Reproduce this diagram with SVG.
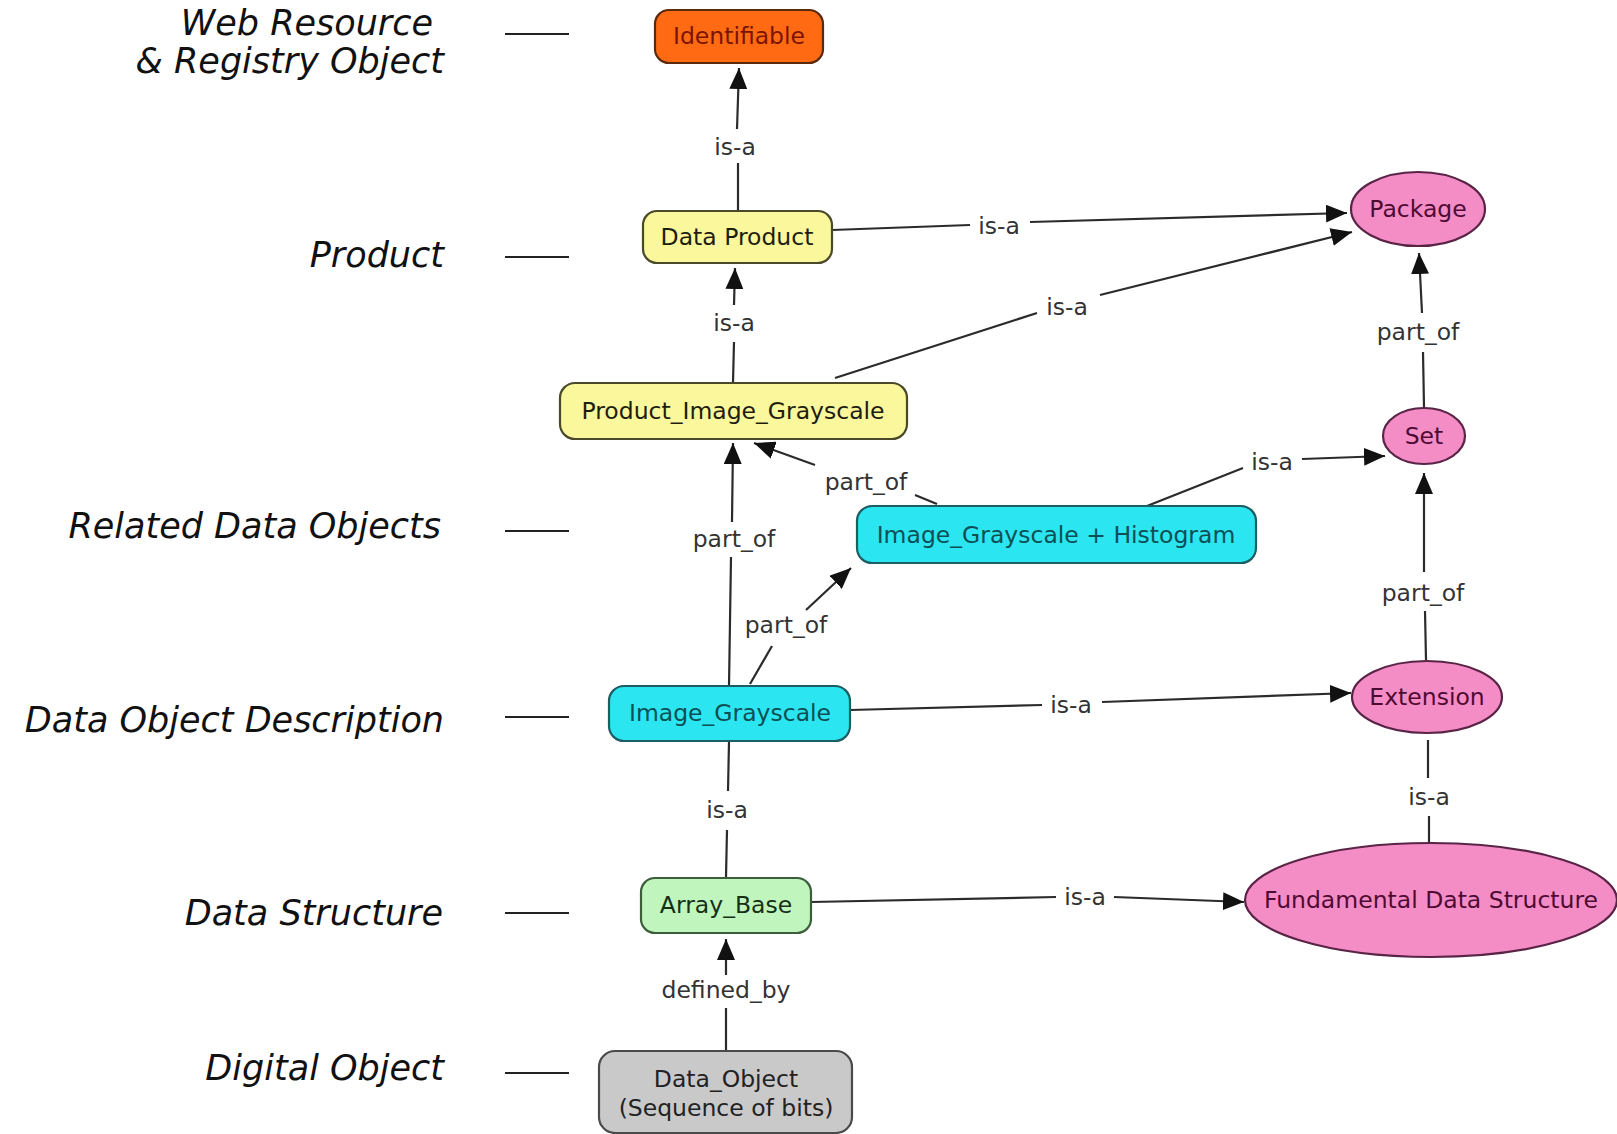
<svg xmlns="http://www.w3.org/2000/svg" width="1617" height="1134" viewBox="0 0 1617 1134">
  <style>
    .lvl { font-family: "DejaVu Sans", Verdana, sans-serif; font-style: italic; font-size: 35px; fill: #111; text-anchor: end; }
    .dash { stroke: #222; stroke-width: 2; }
    .box { stroke-width: 2.2; }
    .ell { fill: #F48DC6; stroke: #5a2446; stroke-width: 2.2; }
    .nt { font-family: "DejaVu Sans", Verdana, sans-serif; font-size: 23.5px; text-anchor: middle; }
    .lbl { font-family: "DejaVu Sans", Verdana, sans-serif; font-size: 23.5px; fill: #333; text-anchor: middle; }
    .ln { stroke: #2b2b2b; stroke-width: 2.2; fill: none; }
    .arr { marker-end: url(#head); }
  </style>
  <defs>
    <marker id="head" markerUnits="userSpaceOnUse" markerWidth="22" markerHeight="18" refX="21" refY="9" orient="auto">
      <path d="M0,0 L21,9 L0,18 z" fill="#111"/>
    </marker>
  </defs>
  <rect width="1617" height="1134" fill="#fff"/>

  <!-- level captions on the left -->
  <g id="levels">
    <text class="lvl" x="433" y="35">Web Resource</text>
    <text class="lvl" x="444" y="73">&amp; Registry Object</text>
    <text class="lvl" x="444" y="267">Product</text>
    <text class="lvl" x="441" y="538">Related Data Objects</text>
    <text class="lvl" x="444" y="732">Data Object Description</text>
    <text class="lvl" x="443" y="925">Data Structure</text>
    <text class="lvl" x="444" y="1080">Digital Object</text>
    <line class="dash" x1="505" y1="34" x2="569" y2="34"/>
    <line class="dash" x1="505" y1="257" x2="569" y2="257"/>
    <line class="dash" x1="505" y1="531" x2="569" y2="531"/>
    <line class="dash" x1="505" y1="717" x2="569" y2="717"/>
    <line class="dash" x1="505" y1="913" x2="569" y2="913"/>
    <line class="dash" x1="505" y1="1073" x2="569" y2="1073"/>
  </g>

  <!-- connectors, broken around their labels -->
  <g id="connectors">
    <!-- Data Product is-a Identifiable -->
    <line class="ln" x1="738" y1="210" x2="738" y2="163"/>
    <line class="ln arr" x1="737" y1="129" x2="739" y2="68"/>
    <text class="lbl" x="735" y="155">is-a</text>
    <!-- Data Product is-a Package -->
    <line class="ln" x1="832" y1="230" x2="970" y2="225"/>
    <line class="ln arr" x1="1030" y1="222" x2="1347" y2="213"/>
    <text class="lbl" x="999" y="234">is-a</text>
    <!-- Product_Image_Grayscale is-a Data Product -->
    <line class="ln" x1="733" y1="382" x2="734" y2="342"/>
    <line class="ln arr" x1="734" y1="305" x2="735" y2="268"/>
    <text class="lbl" x="734" y="331">is-a</text>
    <!-- Product_Image_Grayscale is-a Package -->
    <line class="ln" x1="835" y1="378" x2="1037" y2="313"/>
    <line class="ln arr" x1="1100" y1="295" x2="1352" y2="232"/>
    <text class="lbl" x="1067" y="315">is-a</text>
    <!-- Image_Grayscale + Histogram part_of Product_Image_Grayscale -->
    <line class="ln" x1="937" y1="504" x2="915" y2="495"/>
    <line class="ln arr" x1="815" y1="465" x2="754" y2="443"/>
    <text class="lbl" x="866" y="490">part_of</text>
    <!-- Image_Grayscale + Histogram is-a Set -->
    <line class="ln" x1="1147" y1="506" x2="1243" y2="468"/>
    <line class="ln arr" x1="1302" y1="459" x2="1385" y2="456"/>
    <text class="lbl" x="1272" y="470">is-a</text>
    <!-- Set part_of Package -->
    <line class="ln" x1="1424" y1="407" x2="1423" y2="352"/>
    <line class="ln arr" x1="1422" y1="313" x2="1419" y2="253"/>
    <text class="lbl" x="1418" y="340">part_of</text>
    <!-- Extension part_of Set -->
    <line class="ln" x1="1426" y1="660" x2="1425" y2="611"/>
    <line class="ln arr" x1="1424" y1="572" x2="1424" y2="473"/>
    <text class="lbl" x="1423" y="601">part_of</text>
    <!-- Image_Grayscale part_of Product_Image_Grayscale -->
    <line class="ln" x1="729" y1="686" x2="731" y2="557"/>
    <line class="ln arr" x1="732" y1="522" x2="733" y2="443"/>
    <text class="lbl" x="734" y="547">part_of</text>
    <!-- Image_Grayscale part_of Image_Grayscale + Histogram -->
    <line class="ln" x1="750" y1="684" x2="772" y2="646"/>
    <line class="ln arr" x1="806" y1="610" x2="851" y2="568"/>
    <text class="lbl" x="786" y="633">part_of</text>
    <!-- Image_Grayscale is-a Extension -->
    <line class="ln" x1="850" y1="710" x2="1042" y2="705"/>
    <line class="ln arr" x1="1102" y1="702" x2="1351" y2="693"/>
    <text class="lbl" x="1071" y="713">is-a</text>
    <!-- Array_Base is-a Image_Grayscale -->
    <line class="ln" x1="726" y1="877" x2="727" y2="830"/>
    <line class="ln" x1="728" y1="791" x2="729" y2="742"/>
    <text class="lbl" x="727" y="818">is-a</text>
    <!-- Array_Base is-a Fundamental Data Structure -->
    <line class="ln" x1="811" y1="902" x2="1056" y2="897"/>
    <line class="ln arr" x1="1114" y1="897" x2="1244" y2="902"/>
    <text class="lbl" x="1085" y="905">is-a</text>
    <!-- Fundamental Data Structure is-a Extension -->
    <line class="ln" x1="1429" y1="842" x2="1429" y2="816"/>
    <line class="ln" x1="1428" y1="778" x2="1428" y2="740"/>
    <text class="lbl" x="1429" y="805">is-a</text>
    <!-- Data_Object defined_by Array_Base -->
    <line class="ln" x1="726" y1="1050" x2="726" y2="1008"/>
    <line class="ln arr" x1="726" y1="975" x2="726" y2="939"/>
    <text class="lbl" x="726" y="998">defined_by</text>
  </g>

  <!-- nodes -->
  <g id="identifiable">
    <rect class="box" x="655" y="10" width="168" height="53" rx="14" fill="#FF6A12" stroke="#5a2a0a"/>
    <text class="nt" x="739" y="44" fill="#7a1400">Identifiable</text>
  </g>
  <g id="data-product">
    <rect class="box" x="643" y="211" width="189" height="52" rx="14" fill="#FAF79C" stroke="#4a4a2a"/>
    <text class="nt" x="737" y="245" fill="#1e1e10">Data Product</text>
  </g>
  <g id="product-image-grayscale">
    <rect class="box" x="560" y="383" width="347" height="56" rx="15" fill="#FAF79C" stroke="#4a4a2a"/>
    <text class="nt" x="733" y="419" fill="#1e1e10">Product_Image_Grayscale</text>
  </g>
  <g id="image-grayscale-histogram">
    <rect class="box" x="857" y="506" width="399" height="57" rx="15" fill="#2BE5F0" stroke="#1d5e63"/>
    <text class="nt" x="1056" y="543" fill="#0e4f55">Image_Grayscale + Histogram</text>
  </g>
  <g id="image-grayscale">
    <rect class="box" x="609" y="686" width="241" height="55" rx="15" fill="#2BE5F0" stroke="#1d5e63"/>
    <text class="nt" x="730" y="721" fill="#0e4f55">Image_Grayscale</text>
  </g>
  <g id="array-base">
    <rect class="box" x="641" y="878" width="170" height="55" rx="14" fill="#C0F5BE" stroke="#3c5e3a"/>
    <text class="nt" x="726" y="913" fill="#163016">Array_Base</text>
  </g>
  <g id="data-object">
    <rect class="box" x="599" y="1051" width="253" height="82" rx="16" fill="#C9C9C9" stroke="#4a4a4a"/>
    <text class="nt" x="726" y="1087" fill="#222">Data_Object</text>
    <text class="nt" x="726" y="1116" fill="#222">(Sequence of bits)</text>
  </g>
  <g id="package">
    <ellipse class="ell" cx="1418" cy="209" rx="67" ry="37"/>
    <text class="nt" x="1418" y="217" fill="#4f0a34">Package</text>
  </g>
  <g id="set">
    <ellipse class="ell" cx="1424" cy="436" rx="41" ry="28"/>
    <text class="nt" x="1424" y="444" fill="#4f0a34">Set</text>
  </g>
  <g id="extension">
    <ellipse class="ell" cx="1427" cy="697" rx="75" ry="36"/>
    <text class="nt" x="1427" y="705" fill="#4f0a34">Extension</text>
  </g>
  <g id="fundamental-data-structure">
    <ellipse class="ell" cx="1431" cy="900" rx="186" ry="57"/>
    <text class="nt" x="1431" y="908" fill="#4f0a34">Fundamental Data Structure</text>
  </g>
</svg>
